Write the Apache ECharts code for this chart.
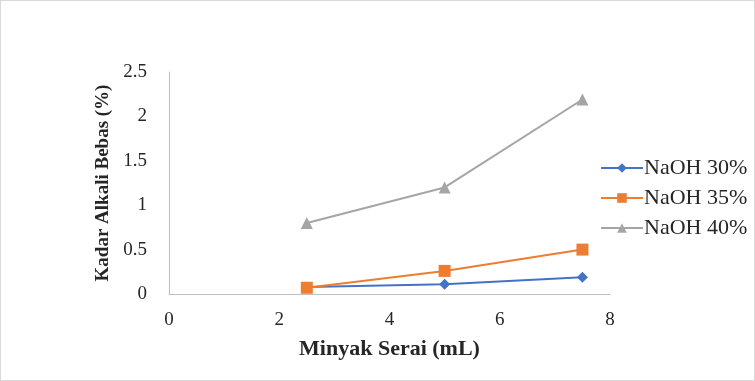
<!DOCTYPE html>
<html><head><meta charset="utf-8">
<script src="https://cdn.jsdelivr.net/npm/echarts@6/dist/echarts.min.js"></script>
<style>html,body{margin:0;padding:0;background:#fff}#c{width:753px;height:379px;border:1px solid #d9d9d9}</style>
</head><body><div id="c"></div>
<script>
const xValues = [2.5, 5, 7.5];
const seriesNames = ['NaOH 30%', 'NaOH 35%', 'NaOH 40%'];
const naoh30 = [0.08, 0.11, 0.19];
const naoh35 = [0.07, 0.26, 0.50];
const naoh40 = [0.80, 1.20, 2.19];
const colors = ['#4472C4', '#ED7D31', '#A5A5A5'];
const symbols = ['diamond', 'rect', 'triangle'];
const symbolSizes = [11, 12, 12];
const allData = [naoh30, naoh35, naoh40];
const font = '"Liberation Serif", "Times New Roman", serif';

const chart = echarts.init(document.getElementById('c'));
chart.setOption({
  animation: false,
  textStyle: { fontFamily: font },
  grid: { left: 168, right: 144, top: 71, bottom: 86 },
  legend: {
    orient: 'vertical', left: 594, top: 151, itemGap: 8,
    itemWidth: 42, itemHeight: 12,
    textStyle: { fontFamily: font, fontSize: 22, color: '#262626', padding: [0, 0, 0, -4] },
    data: seriesNames
  },
  xAxis: {
    type: 'value', min: 0, max: 8, interval: 2,
    name: 'Minyak Serai (mL)', nameLocation: 'middle', nameGap: 44,
    nameTextStyle: { fontFamily: font, fontWeight: 'bold', fontSize: 22, color: '#262626' },
    axisLine: { lineStyle: { color: '#BFBFBF', width: 1 } },
    axisTick: { show: false },
    splitLine: { show: false },
    axisLabel: { fontFamily: font, fontSize: 19, color: '#262626', margin: 17 }
  },
  yAxis: {
    type: 'value', min: 0, max: 2.5, interval: 0.5,
    name: 'Kadar Alkali Bebas (%)', nameLocation: 'middle', nameGap: 56, nameRotate: 90,
    nameTextStyle: { fontFamily: font, fontWeight: 'bold', fontSize: 19, color: '#262626' },
    axisLine: { show: true, lineStyle: { color: '#BFBFBF', width: 1 } },
    axisTick: { show: false },
    splitLine: { show: false },
    axisLabel: { fontFamily: font, fontSize: 19, color: '#262626', margin: 22 }
  },
  series: seriesNames.map((n, i) => ({
    name: n, type: 'line',
    data: xValues.map((x, j) => [x, allData[i][j]]),
    symbol: symbols[i], symbolSize: symbolSizes[i],
    itemStyle: { color: colors[i] },
    lineStyle: { color: colors[i], width: 2 }
  }))
});
</script></body></html>
